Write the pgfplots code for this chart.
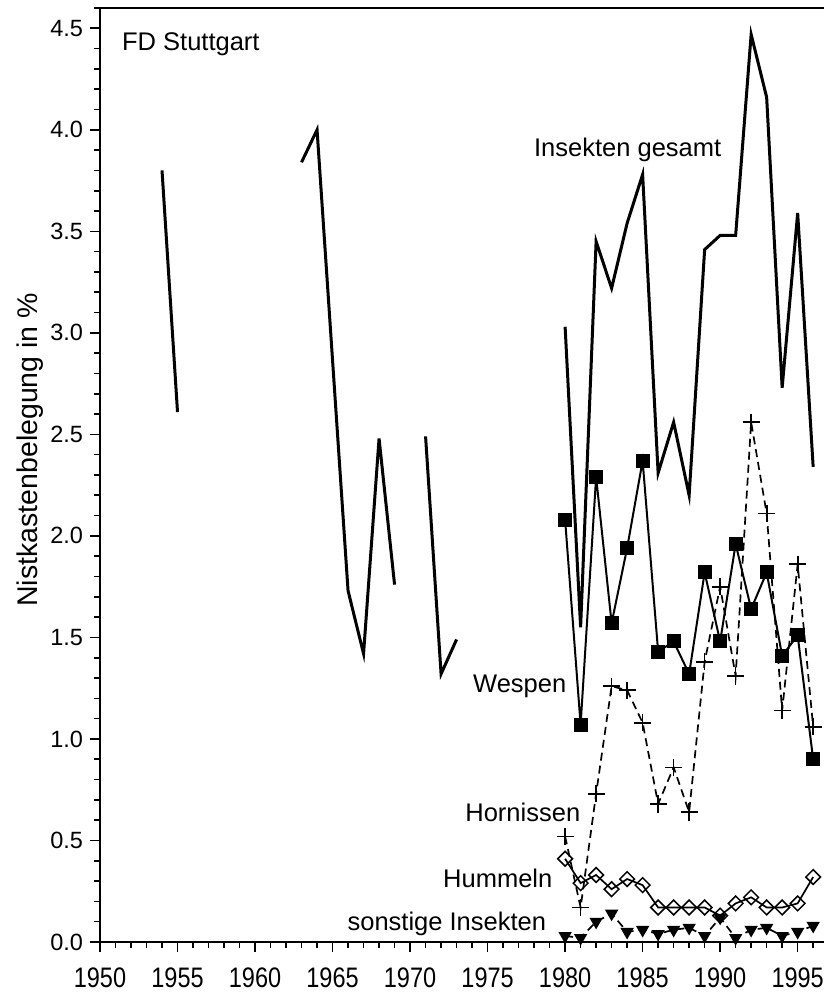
\documentclass[border=0pt]{standalone}
\usepackage{fontspec}
\setmainfont{Liberation Sans}
\usepackage{graphicx}
\usepackage{pgfplots}
\usepackage{pgfplotstable}
\pgfplotsset{compat=1.18}
\newcommand{\annfont}{\fontsize{12.8}{15}\selectfont}

\pgfplotstableread{
year val
1954 3.80
1955 2.61
1956 nan
1963 3.84
1964 4.00
1966 1.73
1967 1.42
1968 2.48
1969 1.76
1970 nan
1971 2.49
1972 1.32
1973 1.49
1974 nan
1980 3.03
1981 1.55
1982 3.45
1983 3.22
1984 3.54
1985 3.78
1986 2.31
1987 2.56
1988 2.20
1989 3.41
1990 3.48
1991 3.48
1992 4.47
1993 4.16
1994 2.73
1995 3.59
1996 2.34
}\gesamt

\pgfplotstableread{
year val
1980 2.08
1981 1.07
1982 2.29
1983 1.57
1984 1.94
1985 2.37
1986 1.43
1987 1.48
1988 1.32
1989 1.82
1990 1.48
1991 1.96
1992 1.64
1993 1.82
1994 1.41
1995 1.51
1996 0.90
}\wespen

\pgfplotstableread{
year val
1980 0.52
1981 0.17
1982 0.73
1983 1.26
1984 1.24
1985 1.08
1986 0.68
1987 0.86
1988 0.64
1989 1.38
1990 1.75
1991 1.31
1992 2.56
1993 2.11
1994 1.14
1995 1.86
1996 1.06
}\hornissen

\pgfplotstableread{
year val
1980 0.41
1981 0.29
1982 0.33
1983 0.26
1984 0.31
1985 0.28
1986 0.17
1987 0.17
1988 0.17
1989 0.17
1990 0.13
1991 0.19
1992 0.22
1993 0.17
1994 0.17
1995 0.19
1996 0.32
}\hummeln

\pgfplotstableread{
year val
1980 0.03
1981 0.02
1982 0.10
1983 0.14
1984 0.05
1985 0.06
1986 0.04
1987 0.06
1988 0.07
1989 0.03
1990 0.12
1991 0.02
1992 0.06
1993 0.07
1994 0.03
1995 0.05
1996 0.08
}\sonstige

\begin{document}
\begin{tikzpicture}
\begin{axis}[
  scale only axis, width=362bp, height=467bp,
  xmin=1950, xmax=1996.7, ymin=0, ymax=4.6,
  axis x line*=bottom, axis y line*=left,
  axis line style={line width=1bp, black},
  xtick={1950,1955,...,1995},
  minor xtick={1950,1951,...,1996},
  ytick={0,0.5,1,1.5,2,2.5,3,3.5,4,4.5},
  minor ytick={0,0.1,...,4.55},
  tick align=outside,
  major tick length=5bp, minor tick length=3bp,
  every tick/.style={line width=0.8bp, black},
  /pgf/number format/assume math mode=true,
  tick label style={font=\fontsize{11.8}{14}\selectfont},
  xticklabel={\scalebox{1}[1.2]{\pgfmathprintnumber[1000 sep={}]{\tick}}},
  x tick label style={yshift=-4.5bp},
  y tick label style={/pgf/number format/.cd, fixed, fixed zerofill, precision=1},
  ylabel={Nistkastenbelegung in \%},
  ylabel style={font=\fontsize{14.3}{17}\selectfont, at={(axis description cs:-0.0967,0.527)}, anchor=center},
  unbounded coords=jump,
  clip=false,
]
\draw[line width=1bp] (rel axis cs:0,1) -- (rel axis cs:1,1);

\addplot[black, line width=1.5bp, no markers] table[x=year, y=val] {\gesamt};
\addplot[black, line width=1bp, mark=square*, mark size=3bp, mark options={solid}] table[x=year, y=val] {\wespen};
\addplot[black, line width=0.85bp, dash pattern=on 4bp off 2.5bp, mark=+, mark size=4.3bp, mark options={solid, line width=0.85bp}] table[x=year, y=val] {\hornissen};
\addplot[black, line width=0.85bp, mark=square, mark size=2.6bp, mark options={solid, rotate=45, fill=white, line width=0.75bp}] table[x=year, y=val] {\hummeln};
\addplot[black, line width=0.85bp, dash pattern=on 4bp off 2.5bp, mark=triangle*, mark size=3bp, mark options={solid, rotate=180}] table[x=year, y=val] {\sonstige};

\node[anchor=west, inner sep=0, font=\annfont] at (axis cs:1951.4,4.42) {FD Stuttgart};
\node[anchor=east, inner sep=0, font=\annfont] at (axis cs:1990.1,3.90) {Insekten gesamt};
\node[anchor=east, inner sep=0, font=\annfont] at (axis cs:1980.1,1.26) {Wespen};
\node[anchor=east, inner sep=0, font=\annfont] at (axis cs:1981.0,0.64) {Hornissen};
\node[anchor=east, inner sep=0, font=\annfont] at (axis cs:1979.2,0.315) {Hummeln};
\node[anchor=east, inner sep=0, font=\annfont] at (axis cs:1978.8,0.09) {sonstige Insekten};
\end{axis}
\pgfresetboundingbox
\path ([shift={(-50bp,-25.5bp)}]current axis.south west) rectangle ([shift={(0bp,4bp)}]current axis.north east);
\end{tikzpicture}
\end{document}
